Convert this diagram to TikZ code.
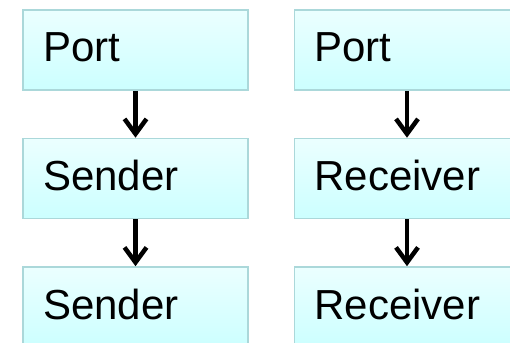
\documentclass[tikz,border=0pt]{standalone}
\usepackage{fontspec}
\setmainfont{Liberation Sans}
\usetikzlibrary{arrows.meta}
\definecolor{boxline}{HTML}{ABD8DA}
\definecolor{boxtop}{HTML}{EBFFFF}
\definecolor{boxbot}{HTML}{CCFFFF}
\tikzset{
  box/.style={draw=boxline, line width=1.6pt, rectangle, top color=boxtop, bottom color=boxbot,
    minimum width=225pt, minimum height=80pt, inner xsep=20pt, inner ysep=0pt,
    text width=185pt, align=left, text height=30pt, text depth=6pt,
    font=\fontsize{42pt}{42pt}\selectfont},
  flow/.style={line width=4.5pt, -{Straight Barb[length=15pt,width=22pt,line join=miter,line cap=butt]}}
}
\begin{document}
\begin{tikzpicture}[x=1pt,y=-1pt]
\useasboundingbox (0,0) rectangle (510,342);
\clip (0,0) rectangle (510,342);
\node[box] (lp) at (135.5,50) {Port};
\node[box] (ls1) at (135.5,178.5) {Sender};
\node[box] (ls2) at (135.5,307) {Sender};
\node[box] (rp) at (407,50) {Port};
\node[box] (rr1) at (407,178.5) {Receiver};
\node[box] (rr2) at (407,307) {Receiver};
\draw[flow] (lp) -- (ls1);
\draw[flow] (ls1) -- (ls2);
\draw[flow] (rp) -- (rr1);
\draw[flow] (rr1) -- (rr2);
\end{tikzpicture}
\end{document}
